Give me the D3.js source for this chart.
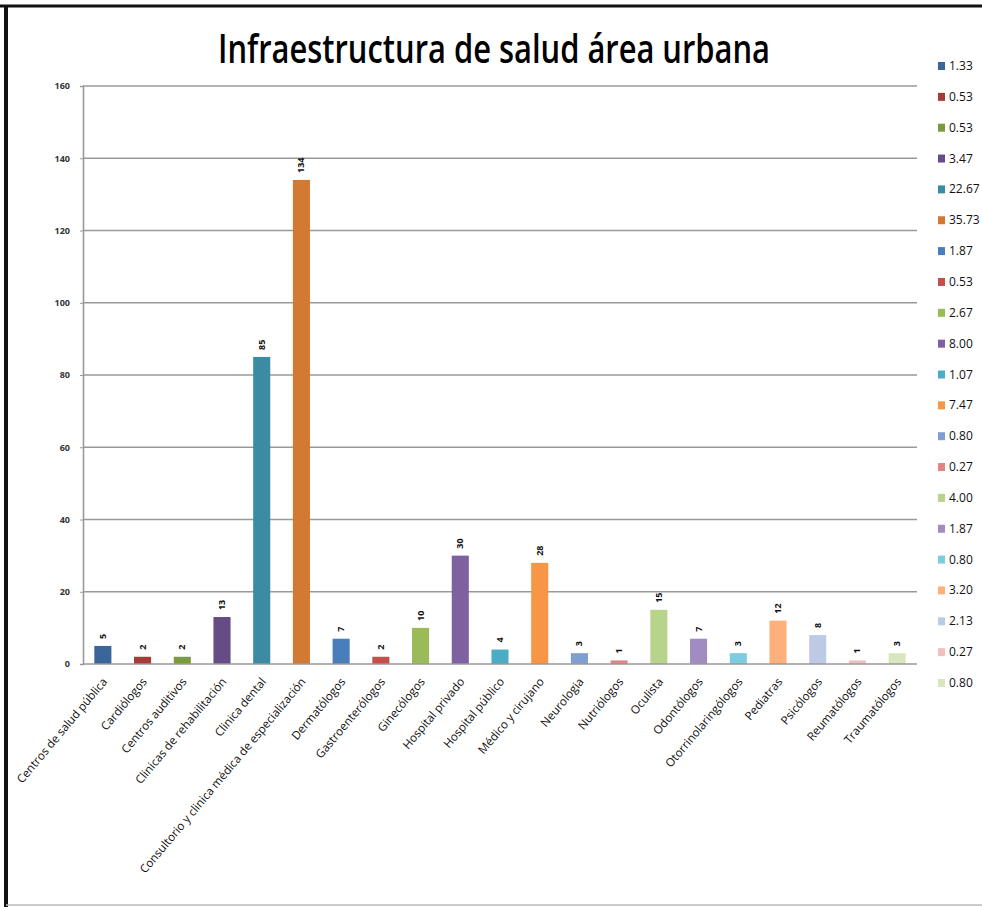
<!DOCTYPE html>
<html>
<head>
<meta charset="utf-8">
<script src="https://cdn.jsdelivr.net/npm/d3@7"></script>
<style>
  body { margin: 0; background: #fff; }
  text { font-family: "Open Sans", sans-serif; }
</style>
</head>
<body>
<div id="chart"></div>
<script>
var vWidth = 982;
var vHeight = 907;

// Data
var categories = ["Centros de salud pública", "Cardiólogos", "Centros auditivos",
  "Clinicas de rehabilitación", "Clinica dental", "Consultorio y clinica  médica de especialización",
  "Dermatólogos", "Gastroenterólogos", "Ginecólogos", "Hospital privado", "Hospital público",
  "Médico y cirujano", "Neurologia", "Nutriólogos", "Oculista", "Odontólogos",
  "Otorrinolaringólogos", "Pediatras", "Psicólogos", "Reumatólogos", "Traumatólogos"];
var values = [5, 2, 2, 13, 85, 134, 7, 2, 10, 30, 4, 28, 3, 1, 15, 7, 3, 12, 8, 1, 3];
var percents = ["1.33", "0.53", "0.53", "3.47", "22.67", "35.73", "1.87", "0.53", "2.67", "8.00",
  "1.07", "7.47", "0.80", "0.27", "4.00", "1.87", "0.80", "3.20", "2.13", "0.27", "0.80"];
var yTicks = [0, 20, 40, 60, 80, 100, 120, 140, 160];
var colors = ["#3a6699", "#a33b38", "#7a9a3f", "#654c84", "#3b8ba2", "#d27a34",
  "#4a7ebb", "#c4504c", "#9bbb59", "#7f60a0", "#4bacc6", "#f79646",
  "#7f9fd3", "#e08584", "#b8d38a", "#a08cc0", "#7dcde0", "#fdb07a",
  "#bccae6", "#f0c0c0", "#d7e6bc"];

var svg = d3.select("#chart")
  .append("svg")
  .attr("width", vWidth)
  .attr("height", vHeight);

// frame
svg.append("line").attr("x1", 0).attr("x2", vWidth).attr("y1", 6).attr("y2", 6)
  .attr("stroke", "#111").attr("stroke-width", 3);
svg.append("line").attr("x1", 6).attr("x2", 6).attr("y1", 5).attr("y2", vHeight)
  .attr("stroke", "#111").attr("stroke-width", 4);
svg.append("line").attr("x1", 6).attr("x2", vWidth).attr("y1", 905).attr("y2", 905)
  .attr("stroke", "#bbb").attr("stroke-width", 1.5);

// title
svg.append("text")
  .attr("x", 494).attr("y", 63)
  .attr("text-anchor", "middle")
  .attr("font-size", 40)
  .attr("font-weight", 600)
  .attr("textLength", 552)
  .attr("lengthAdjust", "spacingAndGlyphs")
  .attr("fill", "#000")
  .text("Infraestructura de salud área urbana");

var x0 = 83, x1 = 917, yTop = 86, yBot = 664;

var x = d3.scaleBand().domain(categories).range([x0, x1]).paddingInner(0.57).paddingOuter(0.285);
var y = d3.scaleLinear().domain([0, 160]).range([yBot, yTop]);

// grid
svg.append("g").selectAll("line").data(yTicks.slice(1)).enter().append("line")
  .attr("x1", x0).attr("x2", x1)
  .attr("y1", d => y(d)).attr("y2", d => y(d))
  .attr("stroke", "#999").attr("stroke-width", 1.6);

// y axis
var yAxis = svg.append("g")
  .attr("transform", `translate(${x0},0)`)
  .call(d3.axisLeft(y).tickValues(yTicks).tickSize(3).tickPadding(10));
yAxis.select(".domain").attr("stroke", "#999").attr("stroke-width", 1.6);
yAxis.selectAll(".tick line").attr("stroke", "#999");
yAxis.selectAll("text")
  .attr("font-size", 9).attr("font-weight", "bold").attr("fill", "#333")
  .attr("font-family", "Open Sans, sans-serif");

// bars
svg.append("g").selectAll("rect").data(values).enter().append("rect")
  .attr("x", (d, i) => x(categories[i]))
  .attr("y", d => y(d))
  .attr("width", x.bandwidth())
  .attr("height", d => y(0) - y(d))
  .attr("fill", (d, i) => colors[i]);

// x axis line
svg.append("line").attr("x1", x0).attr("x2", x1).attr("y1", yBot).attr("y2", yBot)
  .attr("stroke", "#999").attr("stroke-width", 1.6);

// value labels (rotated)
svg.append("g").selectAll("text").data(values).enter().append("text")
  .attr("transform", (d, i) => `translate(${x(categories[i]) + x.bandwidth() / 2 + 3},${y(d) - 7}) rotate(-90)`)
  .attr("text-anchor", "start")
  .attr("font-size", 9).attr("font-weight", "bold").attr("fill", "#111")
  .text(d => d);

// category labels
svg.append("g").selectAll("text").data(categories).enter().append("text")
  .attr("transform", d => `translate(${x(d) + x.bandwidth() / 2 + 5},${yBot + 18}) rotate(-50)`)
  .attr("text-anchor", "end")
  .attr("font-size", 11.6).attr("fill", "#111")
  .text(d => d);

// legend
var legend = svg.append("g").selectAll("g").data(percents).enter().append("g")
  .attr("transform", (d, i) => `translate(938,${66 + i * 30.85})`);
legend.append("rect")
  .attr("x", 0).attr("y", -4).attr("width", 7).attr("height", 8)
  .attr("fill", (d, i) => colors[i]);
legend.append("text")
  .attr("x", 11).attr("y", 4)
  .attr("font-size", 12).attr("fill", "#111")
  .text(d => d);
</script>
</body>
</html>
